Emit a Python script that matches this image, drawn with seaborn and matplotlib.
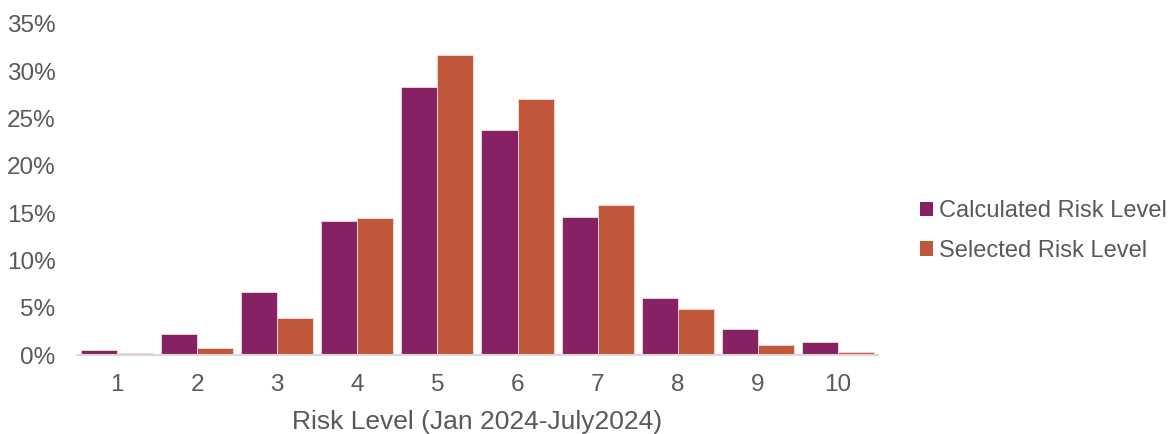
import numpy as np
import pandas as pd
import matplotlib
matplotlib.use("Agg")
import matplotlib.pyplot as plt
import seaborn as sns
from matplotlib.patches import Patch
from matplotlib.ticker import PercentFormatter

levels = ["1", "2", "3", "4", "5", "6", "7", "8", "9", "10"]
calculated = [0.5, 2.25, 6.7, 14.2, 28.3, 23.8, 14.6, 6.0, 2.7, 1.4]
selected = [0.25, 0.77, 3.9, 14.5, 31.7, 27.0, 15.8, 4.9, 1.1, 0.35]
series_names = ["Calculated Risk Level", "Selected Risk Level"]
colors = ["#862163", "#C0573A"]

df = pd.DataFrame({
    "level": levels * 2,
    "share": calculated + selected,
    "series": [series_names[0]] * len(levels) + [series_names[1]] * len(levels),
})

sns.set_theme(style="white")
plt.rcParams["font.family"] = ["Liberation Sans", "DejaVu Sans"]
text_color = "#595959"

fig = plt.figure(figsize=(11.73, 4.34), dpi=100)
ax = fig.add_axes([0.0656, 0.182, 0.6829, 0.7634])

sns.barplot(data=df, x="level", y="share", hue="series", order=levels,
            hue_order=series_names, palette=colors, saturation=1, width=0.9,
            edgecolor="#f3dcdc", linewidth=0.6, ax=ax, legend=False)

ax.set_ylim(0, 35)
ax.set_xlim(-0.5, 9.5)
ax.set_yticks(np.arange(0, 36, 5))
ax.yaxis.set_major_formatter(PercentFormatter(decimals=0))
ax.tick_params(axis="both", length=0, labelsize=17.5, colors=text_color)
ax.tick_params(axis="y", pad=15.5)
ax.tick_params(axis="x", pad=14)
ax.set_ylabel("")
ax.set_xlabel("Risk Level (Jan 2024-July2024)", fontsize=19, color=text_color, labelpad=10)

for side in ["top", "right", "left"]:
    ax.spines[side].set_visible(False)
ax.spines["bottom"].set_color("#d9d9d9")
ax.spines["bottom"].set_linewidth(1.5)

handles = [Patch(facecolor=c, edgecolor="none") for c in colors]
fig.legend(handles, series_names, loc="center left", bbox_to_anchor=(0.7666, 0.468),
           frameon=False, fontsize=17, labelcolor=text_color,
           handlelength=0.55, handleheight=0.55, handletextpad=0.25, labelspacing=0.75)

fig.savefig("out.png", dpi=100)
